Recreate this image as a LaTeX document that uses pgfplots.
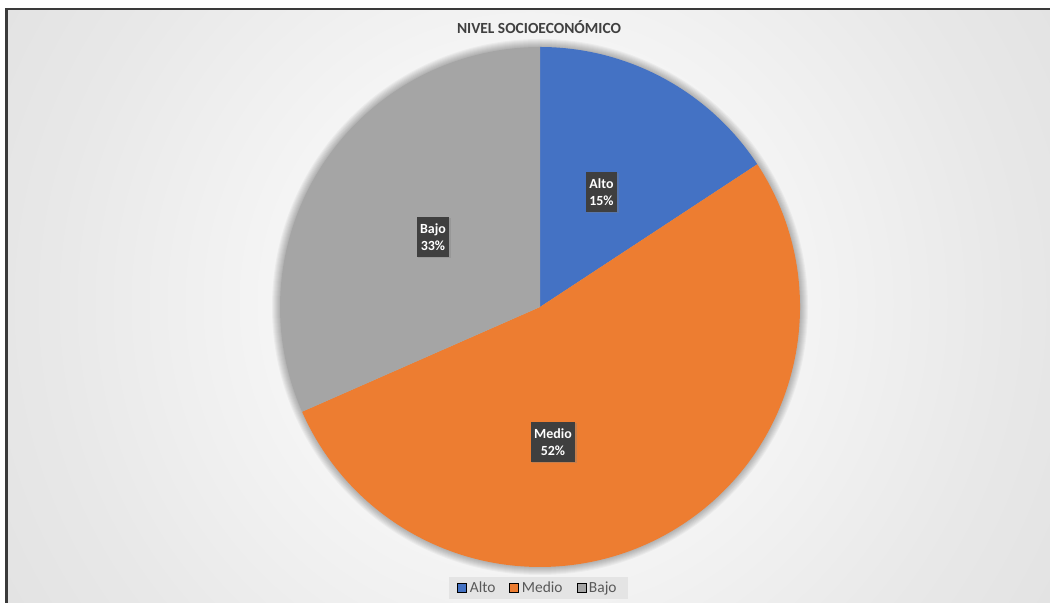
\documentclass[border=0pt]{standalone}
\usepackage{pgfplots}
\pgfplotsset{compat=1.18}
\usepackage{pgfplotstable}
\usepackage{fontspec}
\setmainfont{Carlito}
\usetikzlibrary{shadows}
\definecolor{altoc}{HTML}{4472C4}
\definecolor{medioc}{HTML}{ED7D31}
\definecolor{bajoc}{HTML}{A5A5A5}
\definecolor{labbg}{HTML}{3F3F3F}
\definecolor{txtc}{HTML}{404040}
\definecolor{legtxt}{HTML}{595959}
\definecolor{legbg}{HTML}{E4E4E4}
\definecolor{bgA}{HTML}{F8F8F8}
\definecolor{bgB}{HTML}{E8E8E8}
\definecolor{bgC}{HTML}{D9D9D9}
\definecolor{bgD}{HTML}{D0D0D0}
\definecolor{bgE}{HTML}{C8C8C8}
\definecolor{framec}{HTML}{3A3A3A}
\pgfdeclareradialshading{bgshade}{\pgfpoint{0bp}{0bp}}{color(0bp)=(white); color(8bp)=(bgA); color(20bp)=(bgB); color(35bp)=(bgC); color(45bp)=(bgD); color(72bp)=(bgE)}

\pgfplotstableread{
label value
Alto 15.75
Medio 52.65
Bajo 31.6
}\piedata

\begin{document}
\begin{tikzpicture}
\pgfplotstablegetelem{0}{value}\of\piedata \let\va\pgfplotsretval
\pgfplotstablegetelem{1}{value}\of\piedata \let\vb\pgfplotsretval
\pgfplotstablegetelem{2}{value}\of\piedata \let\vc\pgfplotsretval
\pgfmathsetmacro\aA{90-3.6*\va}
\pgfmathsetmacro\aB{\aA-3.6*\vb}
\pgfmathsetmacro\aC{\aB-3.6*\vc}
\begin{axis}[
  x=1bp, y=1bp, xmin=0, xmax=1050, ymin=0, ymax=603,
  hide axis, clip=true,
  legend columns=3,
  legend image code/.code={\draw[#1] (0bp,-4.5bp) rectangle (9bp,4.5bp);},
  legend style={at={(axis cs:538.5,15)}, anchor=center, fill=legbg, draw=none,
    font=\fontsize{15.5}{18}\selectfont, text=legtxt,
    inner xsep=8bp, inner ysep=2.5bp,
    nodes={inner xsep=3bp, inner ysep=2bp},
    /tikz/every even column/.append style={column sep=11bp}},
]
% background
\fill[white] (axis cs:0,0) rectangle (axis cs:1050,603);
\begin{scope}
\clip (axis cs:6,-1) rectangle (axis cs:1051,593.5);
\shade[shading=bgshade] (axis cs:-70,-300) rectangle (axis cs:1130,900);
\end{scope}
\draw[framec, line width=2bp] (axis cs:6.5,-1) -- (axis cs:6.5,593.5) -- (axis cs:1051,593.5);
% pie shadow
\pgfplotsinvokeforeach{1,2,3,4,5,6,7,8}{
  \fill[black, opacity=0.035] (axis cs:540,296) circle[radius={(260+#1)*1bp}];
}
% pie wedges
\fill[altoc] (axis cs:540,296) -- +(90:260bp) arc[start angle=90, end angle=\aA, radius=260bp] -- cycle;
\fill[medioc] (axis cs:540,296) -- +(\aA:260bp) arc[start angle=\aA, end angle=\aB, radius=260bp] -- cycle;
\fill[bajoc] (axis cs:540,296) -- +(\aB:260bp) arc[start angle=\aB, end angle=\aC, radius=260bp] -- cycle;
% data labels
\tikzset{dl/.style={fill=labbg, text=white, font=\bfseries\fontsize{14}{16.5}\selectfont,
  align=center, inner xsep=3.5bp, inner ysep=2bp, minimum height=40bp,
  drop shadow={shadow xshift=1.5bp, shadow yshift=-1.5bp, opacity=0.35}}}
\node[dl] at (axis cs:601.5,411) {Alto\\15\%};
\node[dl] at (axis cs:553,161) {Medio\\52\%};
\node[dl] at (axis cs:433,366) {Bajo\\33\%};
% title
\node[font=\bfseries\fontsize{15.5}{18}\selectfont, text=txtc] at (axis cs:539,575.5) {NIVEL SOCIOECONÓMICO};
\addlegendimage{fill=altoc, draw=none}
\addlegendentry{Alto}
\addlegendimage{fill=medioc, draw=none}
\addlegendentry{Medio}
\addlegendimage{fill=bajoc, draw=none}
\addlegendentry{Bajo}
\end{axis}
\end{tikzpicture}
\end{document}
